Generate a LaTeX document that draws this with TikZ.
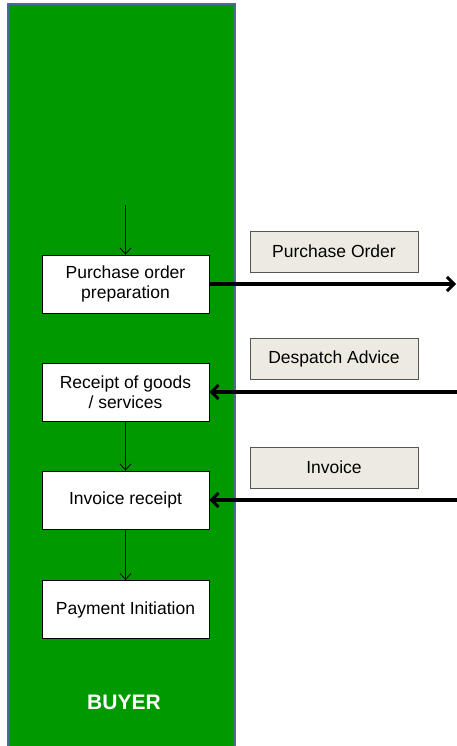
\documentclass[tikz,border=0pt]{standalone}
\usepackage{fontspec}
\setmainfont{Liberation Sans}
\usetikzlibrary{arrows.meta}
\definecolor{lanegreen}{HTML}{009900}
\definecolor{laneedge}{HTML}{4A6A9C}
\definecolor{msgfill}{HTML}{EDEBE1}
\definecolor{msgedge}{HTML}{555555}
\begin{document}
\begin{tikzpicture}[x=1pt,y=-1pt,
  stepbox/.style={draw=black, line width=0.9pt, fill=white, minimum width=167pt,
    minimum height=58pt, inner sep=0pt, align=center,
    font=\fontsize{17.5}{20.5}\selectfont},
  msgbox/.style={draw=msgedge, line width=0.9pt, fill=msgfill, minimum width=168pt,
    minimum height=41pt, inner sep=0pt, align=center,
    font=\fontsize{17.5}{20.5}\selectfont},
  flow/.style={draw=black, line width=0.8pt, -{Straight Barb[length=6pt,width=11pt,line width=0.8pt]}},
  msg/.style={draw=black, line width=3.5pt, -{Straight Barb[length=7pt,width=14pt,line width=3pt]}}
]
\useasboundingbox (0,0) rectangle (456,746);
% buyer swimlane
\fill[white] (0,0) rectangle (456,746);
\draw[laneedge, line width=2.5pt, fill=lanegreen] (8,4) rectangle (235,770);
\node[text=white, font=\bfseries\fontsize{21}{24}\selectfont] (buyer) at (124,702) {BUYER};

% process steps
\node[stepbox] (po)  at (125.5,284) {Purchase order\\preparation};
\node[stepbox] (rcv) at (125.5,392) {Receipt of goods\\/ services};
\node[stepbox] (inv) at (125.5,500) {Invoice receipt};
\node[stepbox] (pay) at (125.5,609.5) {Payment Initiation};

\coordinate (start) at (125.5,205);
\draw[flow] (start) -- (po.north);
\draw[flow] (rcv.south) -- (inv.north);
\draw[flow] (inv.south) -- (pay.north);

% exchanged documents
\node[msgbox] (mpo)  at (334,251.5) {Purchase Order};
\node[msgbox] (mdes) at (334,359) {Despatch Advice};
\node[msgbox] (minv) at (334,467.5) {Invoice};

\coordinate (poout)  at (456,284);
\coordinate (desin)  at (458,392);
\coordinate (invin)  at (458,500);
\draw[msg] (po.east) -- (poout);
\draw[msg] (desin) -- (rcv.east);
\draw[msg] (invin) -- (inv.east);
\end{tikzpicture}
\end{document}
